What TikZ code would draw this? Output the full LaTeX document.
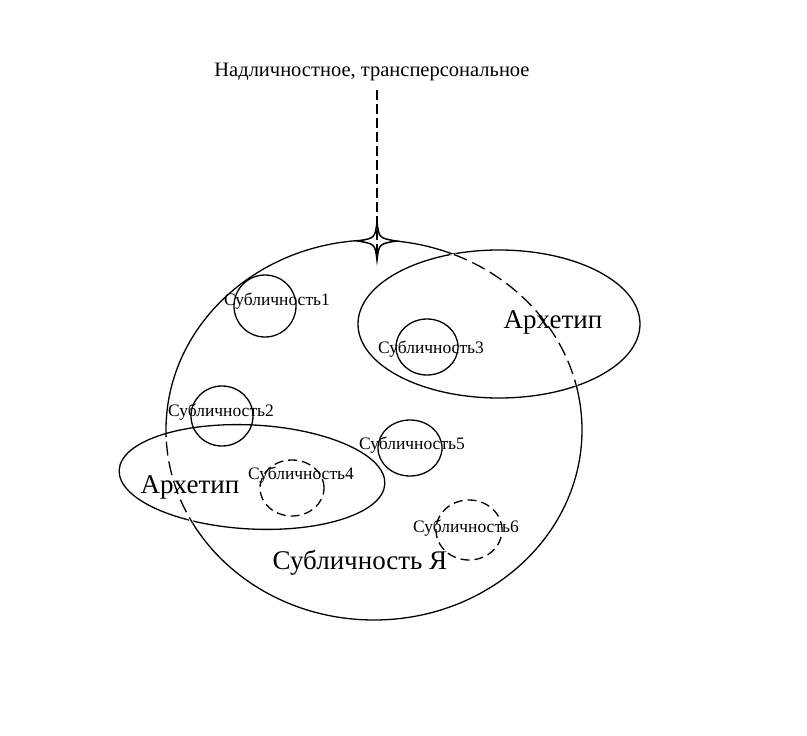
\documentclass[tikz,border=0pt]{standalone}
\usepackage{fontspec}
\setmainfont{Liberation Serif}
\usetikzlibrary{shapes.geometric}
\tikzset{
  sub/.style = {draw, ellipse, line width=1.3pt, inner sep=0pt},
  subdash/.style = {sub, dashed, dash pattern=on 9pt off 5pt},
  lbl/.style = {font=\fontsize{17.5}{20}\selectfont, inner sep=0pt},
  big/.style = {font=\fontsize{27}{30}\selectfont, inner sep=0pt}
}
\begin{document}
\begin{tikzpicture}[x=1pt,y=-1pt]
  \useasboundingbox (0,0) rectangle (807,736);

  \node [font=\fontsize{20.5}{23}\selectfont] (top) at (372,72) {Надличностное, трансперсональное};

  % archetype ellipses
  \node [sub, minimum width=282pt, minimum height=148pt] (arch1) at (499,324) {};
  \node [sub, minimum width=266pt, minimum height=104pt, rotate=-3] (arch2) at (252,477) {};

  % big self circle, dashed where it lies inside the archetypes
  \node [sub, minimum width=416pt, minimum height=380pt] (self) at (374,430) {};
  \begin{scope}
    \clip (499,324) ellipse [x radius=141, y radius=74];
    \draw [white, line width=3pt] (374,430) ellipse [x radius=208, y radius=190];
    \draw [line width=1.3pt, dash pattern=on 14pt off 6pt] (374,430) ellipse [x radius=208, y radius=190];
  \end{scope}
  \begin{scope}
    \clip (252,477) ellipse [x radius=133, y radius=52];
    \draw [white, line width=3pt] (374,430) ellipse [x radius=208, y radius=190];
    \draw [line width=1.3pt, dash pattern=on 14pt off 6pt] (374,430) ellipse [x radius=208, y radius=190];
  \end{scope}

  % star on top of the self
  \coordinate (star) at (377,241);
  \filldraw [fill=white, line width=1.5pt]
    (377,222) .. controls (379,238) .. (396,241)
    .. controls (379,244) .. (377,260)
    .. controls (375,244) .. (358,241)
    .. controls (375,238) .. (377,222);
  \draw [line width=1.3pt, dash pattern=on 10pt off 4pt] (top.south -| star) ++(0,6) -- ([yshift=-19pt]star);

  % subpersonalities
  \node [sub, minimum width=62pt, minimum height=62pt] (s1) at (265,306) {};
  \node [sub, minimum width=62pt, minimum height=56pt] (s3) at (427,347) {};
  \node [sub, minimum width=62pt, minimum height=60pt] (s2) at (222,416) {};
  \node [subdash, minimum width=64pt, minimum height=56pt] (s4) at (292,488) {};
  \node [sub, minimum width=64pt, minimum height=56pt] (s5) at (410,448) {};
  \node [subdash, minimum width=66pt, minimum height=60pt] (s6) at (469,530) {};

  \node [lbl] (l1) at (277,301) {Субличность1};
  \node [lbl] (l3) at (431,349) {Субличность3};
  \node [lbl] (l2) at (221,412) {Субличность2};
  \node [lbl] (l4) at (301,475) {Субличность4};
  \node [lbl] (l5) at (412,445) {Субличность5};
  \node [lbl] (l6) at (466,528) {Субличность6};

  \node [big] (a1) at (553,322) {Архетип};
  \node [big] (a2) at (190,487) {Архетип};
  \node [big] (ya) at (360,563) {Субличность Я};
\end{tikzpicture}
\end{document}
